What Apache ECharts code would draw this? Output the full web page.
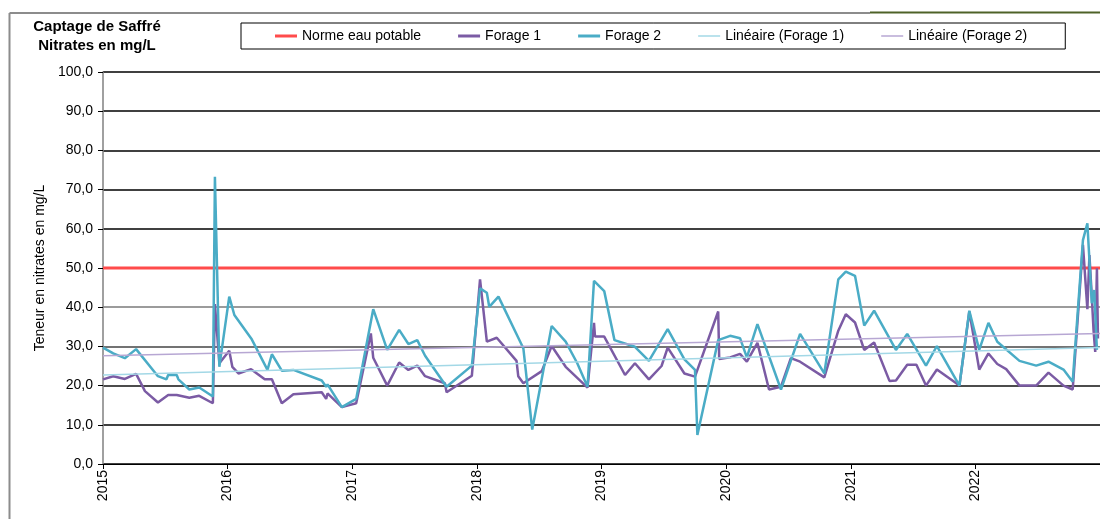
<!DOCTYPE html>
<html>
<head>
<meta charset="utf-8">
<script src="https://cdn.jsdelivr.net/npm/echarts@6/dist/echarts.min.js"></script>
<style>
  html, body { margin: 0; padding: 0; background: #fff; }
  #chart { width: 1100px; height: 519px; }
</style>
</head>
<body>
<div id="chart"></div>
<script>
// valeurs (mg/L)
var norme = [['2015-01-01', 50], ['2023-01-01', 50]];

var forage1 = [
  ['2015-01-01', 21.6], ['2015-01-31', 22.4], ['2015-03-06', 21.7], ['2015-04-08', 23.0],
  ['2015-05-04', 18.6], ['2015-06-11', 15.7], ['2015-07-11', 17.6], ['2015-08-05', 17.6],
  ['2015-09-11', 16.9], ['2015-10-10', 17.4], ['2015-11-19', 15.5], ['2015-11-25', 40.8],
  ['2015-12-08', 25.7], ['2016-01-06', 28.9], ['2016-01-15', 24.8], ['2016-02-02', 23.1],
  ['2016-03-10', 24.2], ['2016-04-19', 21.6], ['2016-05-10', 21.6], ['2016-06-08', 15.5],
  ['2016-07-12', 17.8], ['2016-10-03', 18.3], ['2016-10-16', 16.6], ['2016-10-20', 18.0],
  ['2016-12-01', 14.5], ['2017-01-12', 15.5], ['2017-02-24', 33.3], ['2017-03-03', 27.1],
  ['2017-04-13', 20.0], ['2017-05-18', 25.9], ['2017-06-14', 24.0], ['2017-07-10', 25.1],
  ['2017-08-02', 22.4], ['2017-09-29', 20.6], ['2017-10-04', 18.3], ['2017-12-17', 22.5],
  ['2018-01-10', 47.1], ['2018-01-30', 31.2], ['2018-02-28', 32.2], ['2018-04-27', 26.3],
  ['2018-05-02', 22.4], ['2018-05-17', 20.6], ['2018-07-10', 23.7], ['2018-08-08', 30.1],
  ['2018-09-18', 24.8], ['2018-11-21', 19.5], ['2018-12-10', 36.0], ['2018-12-13', 32.5],
  ['2019-01-09', 32.5], ['2019-03-11', 22.7], ['2019-04-09', 25.7], ['2019-05-20', 21.6],
  ['2019-06-26', 25.0], ['2019-07-14', 29.7], ['2019-09-01', 23.1], ['2019-10-02', 22.3],
  ['2019-12-09', 38.9], ['2019-12-12', 26.8], ['2020-01-13', 27.2], ['2020-02-11', 28.1],
  ['2020-03-02', 26.1], ['2020-04-02', 30.9], ['2020-05-06', 19.0], ['2020-06-10', 19.7],
  ['2020-07-09', 27.0], ['2020-08-05', 26.1], ['2020-10-15', 22.1], ['2020-11-25', 34.0],
  ['2020-12-17', 38.2], ['2021-01-13', 36.1], ['2021-02-09', 29.1], ['2021-03-10', 31.0],
  ['2021-04-24', 21.2], ['2021-05-13', 21.3], ['2021-06-15', 25.3], ['2021-07-12', 25.3],
  ['2021-08-09', 20.0], ['2021-09-10', 24.1], ['2021-11-15', 20.0], ['2021-12-14', 38.9],
  ['2022-01-12', 24.1], ['2022-02-08', 28.2], ['2022-03-06', 25.5], ['2022-04-01', 24.2],
  ['2022-05-10', 20.0], ['2022-06-28', 20.0], ['2022-08-03', 23.3], ['2022-09-16', 20.0],
  ['2022-10-13', 19.0], ['2022-11-12', 55.9], ['2022-11-25', 39.5], ['2022-12-01', 53.3],
  ['2022-12-08', 42.7], ['2022-12-13', 34.2], ['2022-12-18', 28.6], ['2022-12-23', 49.9],
  ['2022-12-26', 32.0]
];

var forage2 = [
  ['2015-01-01', 29.7], ['2015-01-31', 28.2], ['2015-03-06', 27.0], ['2015-04-08', 29.3],
  ['2015-06-11', 22.4], ['2015-07-06', 21.6], ['2015-07-11', 22.7], ['2015-08-05', 22.7],
  ['2015-08-10', 21.6], ['2015-09-11', 19.0], ['2015-10-10', 19.5], ['2015-11-19', 17.2],
  ['2015-11-25', 73.3], ['2015-12-08', 24.8], ['2016-01-06', 42.7], ['2016-01-21', 38.0],
  ['2016-03-12', 31.8], ['2016-04-27', 24.0], ['2016-05-10', 28.0], ['2016-06-08', 23.8],
  ['2016-07-12', 24.0], ['2016-10-03', 21.3], ['2016-10-16', 19.7], ['2016-10-20', 20.3],
  ['2016-12-01', 14.5], ['2017-01-12', 16.6], ['2017-03-03', 39.5], ['2017-04-13', 29.1],
  ['2017-05-18', 34.2], ['2017-06-14', 30.6], ['2017-07-10', 31.6], ['2017-08-02', 27.6],
  ['2017-10-04', 19.7], ['2017-12-17', 25.1], ['2018-01-10', 44.8], ['2018-01-30', 43.7],
  ['2018-02-06', 40.1], ['2018-03-05', 42.7], ['2018-05-12', 30.4], ['2018-05-17', 29.5],
  ['2018-06-12', 8.8], ['2018-08-08', 35.2], ['2018-09-18', 31.2], ['2018-10-22', 25.7],
  ['2018-11-21', 19.7], ['2018-12-10', 46.7], ['2019-01-09', 44.1], ['2019-02-08', 31.6],
  ['2019-04-09', 29.9], ['2019-05-20', 26.3], ['2019-07-14', 34.4], ['2019-09-01', 26.7],
  ['2019-10-02', 24.0], ['2019-10-09', 7.4], ['2019-12-09', 31.6], ['2020-01-13', 32.7],
  ['2020-02-11', 32.1], ['2020-03-02', 27.2], ['2020-04-02', 35.7], ['2020-06-10', 19.0],
  ['2020-08-05', 33.2], ['2020-10-15', 23.1], ['2020-11-25', 47.1], ['2020-12-17', 49.1],
  ['2021-01-13', 48.0], ['2021-02-09', 35.3], ['2021-03-10', 39.1], ['2021-05-13', 29.1],
  ['2021-06-15', 33.2], ['2021-08-09', 25.1], ['2021-09-10', 30.1], ['2021-11-15', 20.0],
  ['2021-12-14', 39.1], ['2022-01-12', 29.1], ['2022-02-08', 36.0], ['2022-03-06', 31.2],
  ['2022-05-10', 26.3], ['2022-06-28', 25.1], ['2022-08-03', 26.1], ['2022-09-16', 24.1],
  ['2022-10-13', 21.0], ['2022-11-12', 57.1], ['2022-11-25', 61.4], ['2022-12-08', 41.0],
  ['2022-12-15', 44.4], ['2022-12-23', 29.1]
];

// droites de tendance (début / fin)
var lineaire1 = [['2015-01-01', 22.7], ['2023-01-01', 29.7]];
var lineaire2 = [['2015-01-01', 27.6], ['2023-01-01', 33.3]];

var yTicks = [0, 10, 20, 30, 40, 50, 60, 70, 80, 90, 100];
var gridColors = ['#000', '#000', '#111', '#444', '#7a7a7a', '#000', '#000', '#000', '#000', '#000', '#000'];

var font = 'Arial, "Liberation Sans", sans-serif';
var iconThick = 'path://M0,0H22V3H0Z';
var iconThin = 'path://M0,0H22V1.5H0Z';

var chart = echarts.init(document.getElementById('chart'));
var option = {
  animation: false,
  backgroundColor: '#fff',
  graphic: [
    { type: 'line', shape: { x1: 9.5, y1: 13, x2: 870, y2: 13 }, style: { stroke: '#8c8c8c', lineWidth: 2 } },
    { type: 'line', shape: { x1: 870, y1: 12.5, x2: 1100, y2: 12.5 }, style: { stroke: '#4f6228', lineWidth: 2 } },
    { type: 'line', shape: { x1: 9.5, y1: 13, x2: 9.5, y2: 519 }, style: { stroke: '#8c8c8c', lineWidth: 2 } },
    {
      type: 'text', x: 97, y: 17,
      style: {
        text: 'Captage de Saffré\nNitrates en mg/L',
        align: 'center',
        font: 'bold 15px ' + font,
        lineHeight: 19,
        fill: '#000'
      }
    }
  ],
  legend: {
    left: 241, top: 23,
    width: 850,
    itemWidth: 22, itemHeight: 12, itemGap: 37,
    padding: [6, 38, 6, 34],
    borderColor: '#000', borderWidth: 1,
    textStyle: { fontSize: 14, fontFamily: font, color: '#000' },
    data: [
      { name: 'Norme eau potable', icon: iconThick },
      { name: 'Forage 1', icon: iconThick },
      { name: 'Forage 2', icon: iconThick },
      { name: 'Linéaire (Forage 1)', icon: iconThin },
      { name: 'Linéaire (Forage 2)', icon: iconThin }
    ]
  },
  grid: { left: 103, right: 0, top: 72, bottom: 55 },
  xAxis: {
    type: 'time',
    min: '2015-01-01', max: '2023-01-01',
    minInterval: 365 * 24 * 3600 * 1000,
    maxInterval: 366 * 24 * 3600 * 1000,
    axisLine: { lineStyle: { color: '#000', width: 1 } },
    axisTick: { show: true, length: 5, lineStyle: { color: '#000' } },
    splitLine: { show: false },
    axisLabel: {
      rotate: 90, fontSize: 14, fontFamily: font, color: '#000', margin: 6,
      hideOverlap: false, showMaxLabel: false,
      formatter: function (v) {
        var y = new Date(v).getFullYear();
        return y >= 2023 ? '' : String(y);
      }
    }
  },
  yAxis: {
    type: 'value', min: 0, max: 100, interval: 10,
    name: 'Teneur en nitrates en mg/L',
    nameLocation: 'middle', nameGap: 55, nameRotate: 90,
    nameTextStyle: { fontSize: 14, fontFamily: font, color: '#000' },
    axisLine: { show: true, lineStyle: { color: '#808080', width: 1.5 } },
    axisTick: { show: true, length: 5, lineStyle: { color: '#000' } },
    splitLine: { show: true, lineStyle: { color: gridColors, width: 1.5 } },
    axisLabel: {
      fontSize: 14, fontFamily: font, color: '#000', margin: 10,
      formatter: function (v) { return yTicks.indexOf(v) >= 0 ? v.toFixed(1).replace('.', ',') : ''; }
    }
  },
  series: [
    {
      name: 'Norme eau potable', type: 'line', data: norme, symbol: 'none',
      lineStyle: { color: '#ff4b4b', width: 3 }, itemStyle: { color: '#ff4b4b' }
    },
    {
      name: 'Forage 1', type: 'line', data: forage1, symbol: 'none',
      lineStyle: { color: '#7b5ba4', width: 2.5 }, itemStyle: { color: '#7b5ba4' }
    },
    {
      name: 'Forage 2', type: 'line', data: forage2, symbol: 'none',
      lineStyle: { color: '#4aacc6', width: 2.5 }, itemStyle: { color: '#4aacc6' }
    },
    {
      name: 'Linéaire (Forage 1)', type: 'line', data: lineaire1, symbol: 'none',
      lineStyle: { color: '#a3d8e6', width: 1.5 }, itemStyle: { color: '#a3d8e6' }
    },
    {
      name: 'Linéaire (Forage 2)', type: 'line', data: lineaire2, symbol: 'none',
      lineStyle: { color: '#b7a7d3', width: 1.5 }, itemStyle: { color: '#b7a7d3' }
    }
  ]
};
chart.setOption(option);
</script>
</body>
</html>
